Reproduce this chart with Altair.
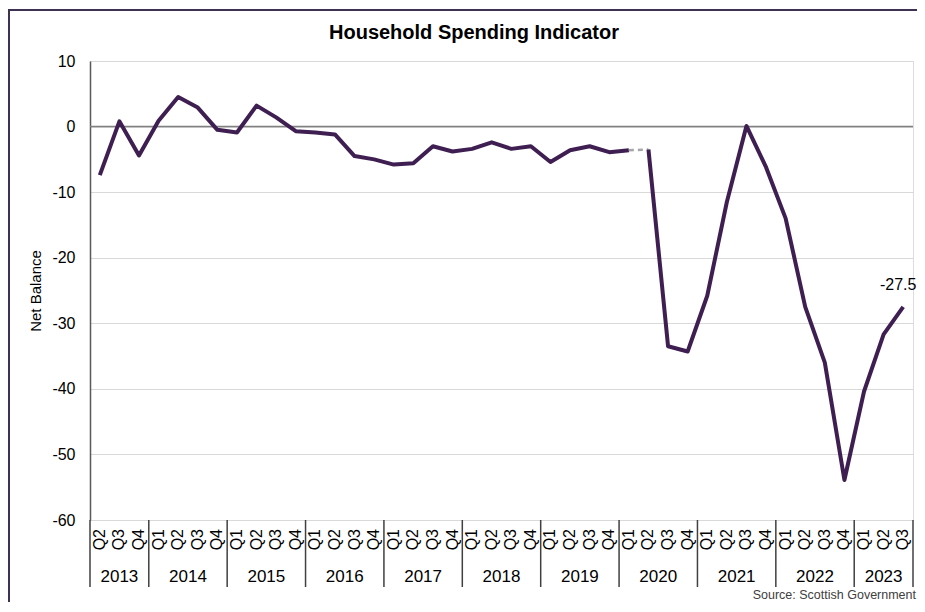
import altair as alt
import pandas as pd

years = ["2013"] * 3 + [str(y) for y in range(2014, 2023) for _ in range(4)] + ["2023"] * 3
quarters = ["Q2", "Q3", "Q4"] + ["Q1", "Q2", "Q3", "Q4"] * 9 + ["Q1", "Q2", "Q3"]
values = [-7.4, 0.8, -4.4,
          0.9, 4.5, 2.9, -0.5,
          -0.9, 3.2, 1.4, -0.7,
          -0.9, -1.2, -4.5, -5.0,
          -5.8, -5.6, -3.0, -3.8,
          -3.4, -2.4, -3.4, -3.0,
          -5.4, -3.6, -3.0, -3.9,
          -3.6, -3.5, -33.5, -34.3,
          -25.8, -11.5, 0.1, -6.2,
          -14.0, -27.5, -36.0, -53.9,
          -40.4, -31.7, -27.5]
year_list = [str(y) for y in range(2013, 2024)]
gap_start = 27  # 2020 Q1 -> 2020 Q2 shown dashed
title_text = "Household Spending Indicator"
source_text = "Source: Scottish Government"

FONT = "Liberation Sans"
LINE = "#3f1f52"
PW, PH = 823, 459

df = pd.DataFrame({"year": years, "quarter": quarters, "value": values})
df["xpos"] = [i + 0.5 for i in range(len(df))]
df["idx"] = range(len(df))
df["label"] = [f"{v:.1f}" for v in values]

part1 = df[df.idx <= gap_start]
part2 = df[df.idx >= gap_start + 1]
gap = df[(df.idx >= gap_start) & (df.idx <= gap_start + 1)]

bounds = [0]
for y in year_list:
    bounds.append(bounds[-1] + years.count(y))
years_df = pd.DataFrame({"year": year_list,
                         "center": [(bounds[i] + bounds[i + 1]) / 2 for i in range(len(year_list))]})
bounds_df = pd.DataFrame({"b": bounds})

xs = alt.Scale(domain=[0, 42], nice=False, zero=False)
ys = alt.Scale(domain=[-60, 10], nice=False)

yaxis = alt.Axis(values=list(range(-60, 11, 10)), grid=True, gridColor="#d9d9d9", gridWidth=1,
                 domainColor="#595959", domainWidth=1.5, ticks=False, labelPadding=15,
                 labelFontSize=16, labelFont=FONT, labelColor="#000000",
                 labelExpr="toString(datum.value)",
                 title="Net Balance", titleFont=FONT, titleFontSize=15, titleFontWeight="normal",
                 titleColor="#000000", titleX=-55, titleY=PH / 2, titleBaseline="middle",
                 titleAngle=270, titleAlign="center")

zero = alt.Chart(df.head(1)).mark_rule(color="#808080", strokeWidth=1.5).encode(
    y=alt.Y(datum=0, scale=ys))

line1 = alt.Chart(part1).mark_line(color=LINE, strokeWidth=4, strokeJoin="round").encode(
    x=alt.X("xpos:Q", scale=xs, axis=None),
    y=alt.Y("value:Q", scale=ys, axis=yaxis))
line2 = alt.Chart(part2).mark_line(color=LINE, strokeWidth=4, strokeJoin="round").encode(
    x=alt.X("xpos:Q", scale=xs, axis=None),
    y=alt.Y("value:Q", scale=ys))
gapline = alt.Chart(gap).mark_line(color="#a6a6a6", strokeWidth=2.5, strokeDash=[5, 4]).encode(
    x=alt.X("xpos:Q", scale=xs, axis=None),
    y=alt.Y("value:Q", scale=ys))

last = alt.Chart(df.tail(1)).mark_text(font=FONT, fontSize=16, dy=-22, dx=-5, color="#000000").encode(
    x=alt.X("xpos:Q", scale=xs, axis=None),
    y=alt.Y("value:Q", scale=ys),
    text="label:N")

qlabels = alt.Chart(df).mark_text(font=FONT, fontSize=16, angle=270, align="right",
                                  baseline="middle", color="#000000").encode(
    x=alt.X("xpos:Q", scale=xs, axis=None),
    y=alt.value(PH + 9),
    text="quarter:N")

ylabels = alt.Chart(years_df).mark_text(font=FONT, fontSize=17, baseline="middle",
                                        color="#000000").encode(
    x=alt.X("center:Q", scale=xs, axis=None),
    y=alt.value(PH + 57),
    text="year:N")

seps = alt.Chart(bounds_df).mark_rule(color="#404040", strokeWidth=1.5).encode(
    x=alt.X("b:Q", scale=xs, axis=None),
    y=alt.value(PH),
    y2=alt.value(PH + 67))

one = pd.DataFrame({"k": [0]})
border_top = alt.Chart(one).mark_rule(color="#3f3150", strokeWidth=2).encode(
    x=alt.value(-81), x2=alt.value(830), y=alt.value(-51))
border_left = alt.Chart(one).mark_rule(color="#3f3150", strokeWidth=2).encode(
    x=alt.value(-81), y=alt.value(-52), y2=alt.value(560))

title = alt.Chart(one).mark_text(font=FONT, fontSize=20, fontWeight="bold", align="center",
                                 baseline="alphabetic", color="#000000").encode(
    x=alt.value(384), y=alt.value(-22), text=alt.value(title_text))

source = alt.Chart(one).mark_text(font=FONT, fontSize=12.5, align="right", baseline="middle",
                                  color="#404040").encode(
    x=alt.value(826), y=alt.value(534), text=alt.value(source_text))

chart = alt.layer(
    zero, line1, gapline, line2, last, qlabels, ylabels, seps,
    border_top, border_left, title, source
).properties(
    width=PW, height=PH,
    autosize=alt.AutoSizeParams(type="none"),
    padding={"left": 82, "top": 53, "right": 4, "bottom": 82},
).configure_view(stroke=None).configure(background="white")

chart.save("out.html", embed_options={"renderer": "svg", "actions": False})
